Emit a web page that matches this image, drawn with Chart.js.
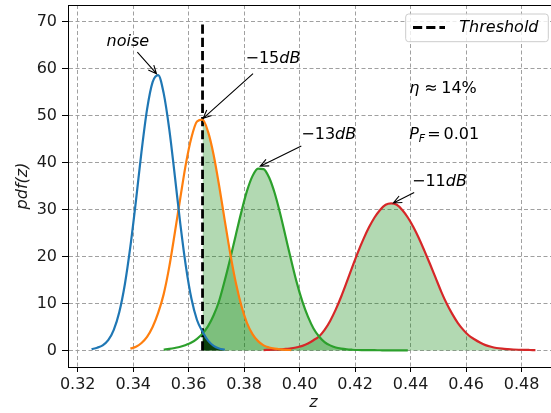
<!DOCTYPE html>
<html>
<head>
<meta charset="utf-8">
<script src="https://cdn.jsdelivr.net/npm/chart.js@4.4.0/dist/chart.umd.min.js"></script>
<style>
    html, body { margin: 0; padding: 0; background: #fff; }
    .wrap { width: 551px; height: 413px; overflow: hidden; }
</style>
</head>
<body>
<div class="wrap"><canvas id="myChart" width="565" height="413"></canvas></div>
<script>
(function() {
    const ctx = document.getElementById('myChart');

    // z samples shared by every curve
    const zGrid = [
        0.325, 0.327, 0.329, 0.331, 0.333, 0.335, 0.337, 0.339, 0.341, 0.343,
        0.345, 0.347, 0.349, 0.351, 0.353, 0.355, 0.357, 0.359, 0.361, 0.363,
        0.365, 0.367, 0.369, 0.371, 0.373, 0.375, 0.377, 0.379, 0.381, 0.383,
        0.385, 0.387, 0.389, 0.391, 0.393, 0.395, 0.397, 0.399, 0.401, 0.403,
        0.405, 0.407, 0.409, 0.411, 0.413, 0.415, 0.417, 0.419, 0.421, 0.423,
        0.425, 0.427, 0.429, 0.431, 0.433, 0.435, 0.437, 0.439, 0.441, 0.443,
        0.445, 0.447, 0.449, 0.451, 0.453, 0.455, 0.457, 0.459, 0.461, 0.463,
        0.465, 0.467, 0.469, 0.471, 0.473, 0.475, 0.477, 0.479, 0.481, 0.483,
        0.485
    ];

    const noiseFrom = 0.325;
    const noisePdf = [
        0.3, 0.6, 1.1, 2.2, 4.4, 8.2, 14.1, 22.2, 31.9, 42.3,
        51.3, 57.1, 58.6, 54.7, 47.1, 37.2, 26.9, 17.9, 11.0, 6.5,
        4.0, 2.1, 1.0, 0.45, 0.2
    ];

    const db15From = 0.339;
    const db15Pdf = [
        0.4, 0.8, 1.6, 2.9, 5.0, 8.0, 12.0, 17.8, 25.0, 32.5,
        39.7, 45.3, 48.7, 49.1, 46.5, 41.6, 35.0, 27.7, 20.6, 14.4,
        9.5, 5.9, 3.5, 2.0, 1.1, 0.65, 0.4, 0.25, 0.15, 0.1
    ];

    const db13From = 0.351;
    const db13Pdf = [
        0.2, 0.35, 0.55, 0.8, 1.2, 1.7, 2.5, 3.6, 5.2, 7.5,
        10.6, 14.9, 19.6, 24.6, 29.5, 33.9, 37.1, 38.7, 38.6, 36.8,
        33.5, 29.1, 24.1, 19.1, 14.4, 10.4, 7.2, 4.7, 3.0, 1.8,
        1.1, 0.65, 0.4, 0.25, 0.17, 0.12, 0.1, 0.08, 0.07, 0.06,
        0.05, 0.05, 0.04, 0.04, 0.03
    ];

    const db11From = 0.387;
    const db11Pdf = [
        0.1, 0.15, 0.2, 0.25, 0.35, 0.45, 0.7, 1.0, 1.5, 2.2,
        3.0, 4.4, 6.3, 8.7, 11.5, 14.6, 17.8, 20.9, 23.7, 26.2,
        28.3, 29.9, 31.0, 31.3, 31.0, 29.9, 28.3, 26.3, 23.9, 21.2,
        18.4, 15.5, 12.6, 10.0, 7.8, 5.9, 4.4, 3.2, 2.4, 1.7,
        1.15, 0.8, 0.55, 0.4, 0.3, 0.22, 0.17, 0.14, 0.12, 0.1
    ];

    const threshold = 0.365;
    const thresholdTop = 70;

    const xTicks = [0.32, 0.34, 0.36, 0.38, 0.40, 0.42, 0.44, 0.46, 0.48];
    const yTicks = [0, 10, 20, 30, 40, 50, 60, 70];

    const font = '"DejaVu Sans", sans-serif';

    function toPoints(from, values) {
        const start = zGrid.findIndex(z => Math.abs(z - from) < 1e-9);
        return values.map((v, i) => ({ x: zGrid[start + i], y: v }));
    }

    function rightOfThreshold(points) {
        return points.filter(p => p.x >= threshold - 1e-9);
    }

    const noise = toPoints(noiseFrom, noisePdf);
    const db15 = toPoints(db15From, db15Pdf);
    const db13 = toPoints(db13From, db13Pdf);
    const db11 = toPoints(db11From, db11Pdf);

    const curve = (label, data, color) => ({
        label, data,
        borderColor: color,
        borderWidth: 2.2,
        pointRadius: 0,
        fill: false,
        cubicInterpolationMode: 'monotone',
        order: 1
    });

    const shade = (data, color) => ({
        data,
        borderColor: 'rgba(0,0,0,0)',
        borderWidth: 0,
        backgroundColor: color,
        pointRadius: 0,
        fill: 'origin',
        cubicInterpolationMode: 'monotone',
        order: 3
    });

    const lightGreen = 'rgba(0,128,0,0.3)';

    // annotations: text anchor (left, middle) and arrow tail -> head, in data units
    const notes = [
        { parts: [['noise', 'i']], x: 0.3304, y: 66.0, arrow: [0.3415, 63.5, 0.3484, 58.9] },
        { parts: [['\u221215', 'r'], ['dB', 'i']], x: 0.3805, y: 62.5, arrow: [0.3832, 58.9, 0.3652, 49.4] },
        { parts: [['\u221213', 'r'], ['dB', 'i']], x: 0.4006, y: 46.2, arrow: [0.4006, 43.5, 0.3858, 39.2] },
        { parts: [['\u221211', 'r'], ['dB', 'i']], x: 0.4405, y: 36.2, arrow: [0.4413, 33.6, 0.4338, 31.4] },
        { parts: [['\u03b7', 'i'], ['\u2248', 'r', 5], ['14%', 'r', 3.5]], x: 0.4395, y: 56.1 },
        { parts: [['P', 'i'], ['F', 's'], ['=', 'r', 2], ['0.01', 'r', 3]], x: 0.4395, y: 46.2 }
    ];

    function drawParts(c, parts, x, yMid) {
        const base = yMid + 6;
        let cx = x;
        c.fillStyle = '#000';
        c.textAlign = 'left';
        c.textBaseline = 'alphabetic';
        parts.forEach(([t, s, gap]) => {
            cx += gap || 0;
            const size = s === 's' ? 11 : 16;
            c.font = (s === 'r' ? '' : 'italic ') + size + 'px ' + font;
            c.fillText(t, cx, s === 's' ? base + 3 : base);
            cx += c.measureText(t).width;
        });
    }

    function drawArrow(c, x1, y1, x2, y2) {
        const ang = Math.atan2(y2 - y1, x2 - x1), len = 9, spread = 0.42;
        c.strokeStyle = '#000';
        c.lineWidth = 1.1;
        c.beginPath();
        c.moveTo(x1, y1);
        c.lineTo(x2, y2);
        c.moveTo(x2 - len * Math.cos(ang - spread), y2 - len * Math.sin(ang - spread));
        c.lineTo(x2, y2);
        c.lineTo(x2 - len * Math.cos(ang + spread), y2 - len * Math.sin(ang + spread));
        c.stroke();
    }

    const decor = {
        id: 'decor',
        afterDatasetsDraw(chart) {
            const c = chart.ctx, a = chart.chartArea;
            const sx = chart.scales.x, sy = chart.scales.y;
            c.save();

            // top spine
            c.strokeStyle = '#000';
            c.lineWidth = 1;
            c.beginPath();
            c.moveTo(a.left, a.top + 0.5);
            c.lineTo(a.right, a.top + 0.5);
            c.stroke();

            notes.forEach(n => {
                if (n.arrow) {
                    drawArrow(c,
                        sx.getPixelForValue(n.arrow[0]), sy.getPixelForValue(n.arrow[1]),
                        sx.getPixelForValue(n.arrow[2]), sy.getPixelForValue(n.arrow[3]));
                }
                drawParts(c, n.parts, sx.getPixelForValue(n.x), sy.getPixelForValue(n.y));
            });

            // legend box
            const lw = 142.6, lh = 27.7;
            const lx = a.right - 10.7 - lw, ly = a.top + 9;
            c.beginPath();
            c.roundRect(lx, ly, lw, lh, 3);
            c.fillStyle = 'rgba(255,255,255,0.8)';
            c.fill();
            c.strokeStyle = '#cccccc';
            c.lineWidth = 1;
            c.stroke();
            c.setLineDash([9.2, 4]);
            c.lineWidth = 2.8;
            c.strokeStyle = '#000';
            c.beginPath();
            c.moveTo(lx + 7.3, ly + 13.5);
            c.lineTo(lx + 39.3, ly + 13.5);
            c.stroke();
            c.setLineDash([]);
            c.font = 'italic 16px ' + font;
            c.fillStyle = '#000';
            c.textBaseline = 'middle';
            c.fillText('Threshold', lx + 53.6, ly + 14);

            c.restore();
        }
    };

    const tickFont = { family: font, size: 16 };

    new Chart(ctx, {
        type: 'line',
        data: {
            datasets: [
                shade(rightOfThreshold(noise), 'rgba(0,50,0,0.9)'),
                shade(rightOfThreshold(db15), lightGreen),
                shade(rightOfThreshold(db13), lightGreen),
                shade(rightOfThreshold(db11), lightGreen),
                {
                    label: 'Threshold',
                    data: [{ x: threshold, y: 0 }, { x: threshold, y: thresholdTop }],
                    borderColor: '#000',
                    borderWidth: 2.8,
                    borderDash: [9.2, 4],
                    pointRadius: 0,
                    fill: false,
                    order: 2
                },
                curve('noise', noise, '#1f77b4'),
                curve('-15dB', db15, '#ff7f0e'),
                curve('-13dB', db13, '#2ca02c'),
                curve('-11dB', db11, '#d62728')
            ]
        },
        options: {
            responsive: false,
            animation: false,
            layout: { padding: { left: 0, top: 5, right: 6, bottom: 0 } },
            plugins: {
                legend: { display: false },
                tooltip: { enabled: false }
            },
            scales: {
                x: {
                    type: 'linear',
                    min: 0.3165,
                    max: 0.4935,
                    afterBuildTicks: scale => { scale.ticks = xTicks.map(v => ({ value: v })); },
                    afterFit: scale => {
                        scale.height = 46;
                        scale.paddingLeft = 0; scale.paddingRight = 0;
                        scale.paddingTop = 0; scale.paddingBottom = 0;
                    },
                    grid: { color: '#a0a0a0', lineWidth: 1, tickColor: '#000', tickLength: 5 },
                    border: { display: true, color: '#000', width: 1, dash: [4, 2.5] },
                    ticks: {
                        autoSkip: false, maxRotation: 0, padding: 3,
                        color: '#1a1a1a', font: tickFont,
                        callback: v => v.toFixed(2)
                    },
                    title: {
                        display: true, text: 'z', color: '#1a1a1a',
                        font: { family: font, size: 16, style: 'italic' },
                        padding: { top: 0, bottom: 1 }
                    }
                },
                y: {
                    min: -3.5,
                    max: 73.5,
                    afterBuildTicks: scale => { scale.ticks = yTicks.map(v => ({ value: v })); },
                    afterFit: scale => {
                        scale.width = 68;
                        scale.paddingLeft = 0; scale.paddingRight = 0;
                        scale.paddingTop = 0; scale.paddingBottom = 0;
                    },
                    grid: { color: '#a0a0a0', lineWidth: 1, tickColor: '#000', tickLength: 6 },
                    border: { display: true, color: '#000', width: 1, dash: [4, 2.5] },
                    ticks: {
                        autoSkip: false, padding: 5,
                        color: '#1a1a1a', font: tickFont,
                        callback: v => String(v)
                    },
                    title: {
                        display: true, text: 'pdf(z)', color: '#1a1a1a',
                        font: { family: font, size: 16, style: 'italic' },
                        padding: { top: 13, bottom: 0 }
                    }
                }
            }
        },
        plugins: [decor]
    });
})();
</script>
</body>
</html>
